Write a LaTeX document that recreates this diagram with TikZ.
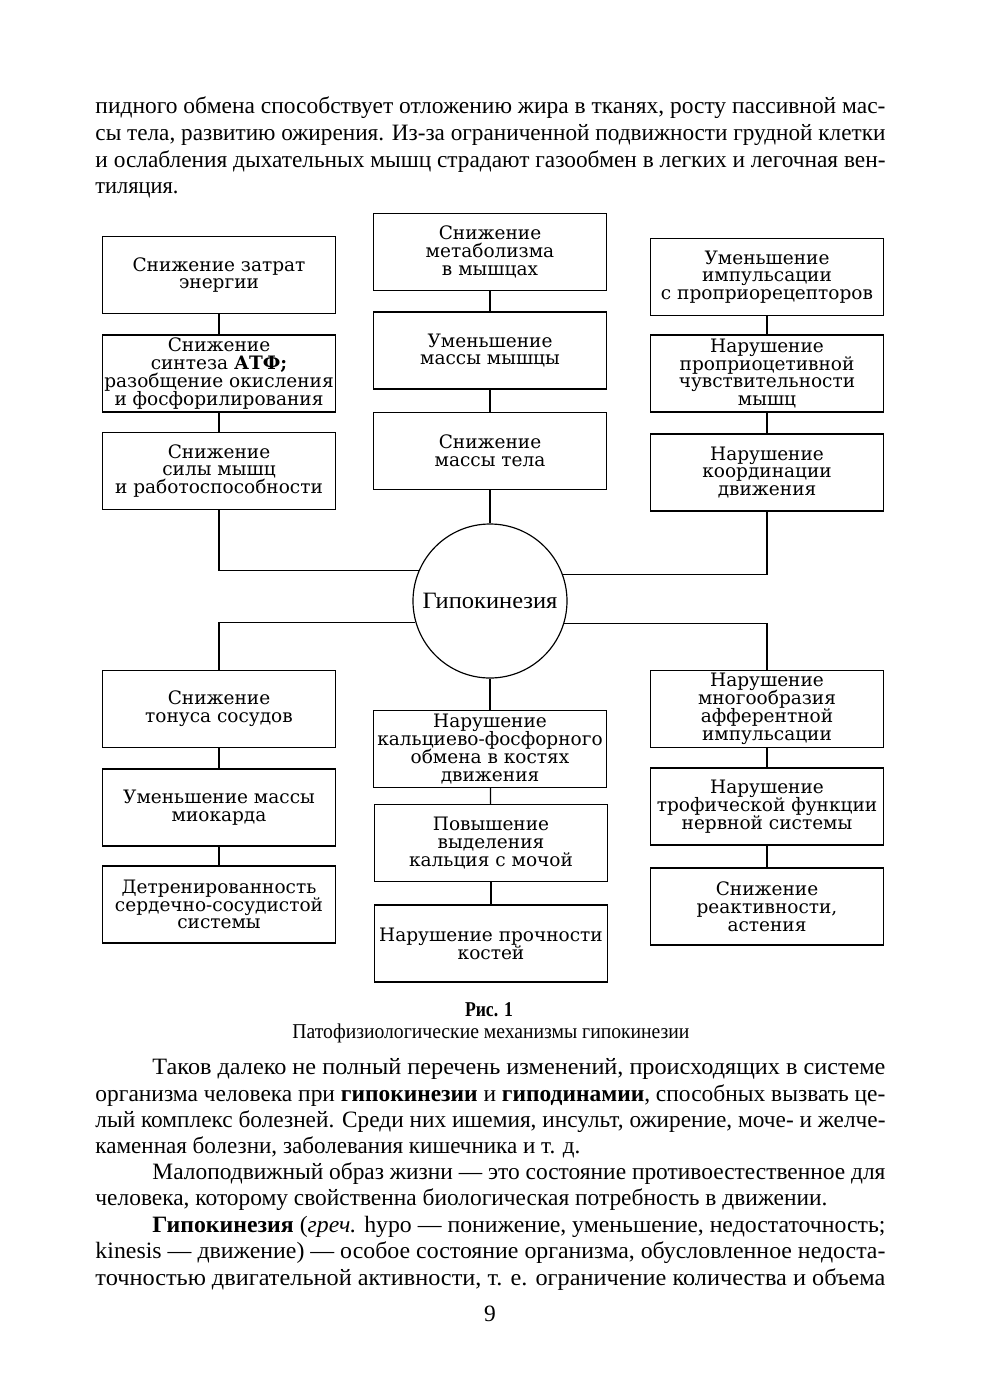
\documentclass[tikz,border=0pt]{standalone}
\usepackage{fontspec}
\usepackage{graphicx}
\setmainfont{Liberation Serif}
\newfontfamily\boxfont{DejaVu Serif}
\newlength\unitpx
\setlength\unitpx{0.15mm}
\newcommand\boxtext{\boxfont\fontsize{7.9}{7.6}\selectfont\lineskiplimit=-10pt\relax}

\begin{document}
\begin{tikzpicture}[x=0.15mm, y=-0.15mm,
        box_style/.style={draw=black, line width=0.5pt, minimum width=34.95mm, minimum height=11.55mm, inner sep=0pt, align=center, font=\boxtext},
        hub_style/.style={circle, draw=black, line width=0.5pt, minimum size=23.1mm, inner sep=0pt},
        edge_style/.style={draw=black, line width=0.5pt, -},
        line_style/.style={anchor=base west, inner sep=0pt, font=\fontsize{10}{12}\selectfont}]

        \fill[white] (0,0) rectangle (980,1386);
        \useasboundingbox (0,0) rectangle (980,1386);

        % text above the figure
        \node [line_style] (p1) at (95,113) {\resizebox{790\unitpx}{\height}{пидного обмена способствует отложению жира в тканях, росту пассивной мас-}};
        \node [line_style] (p2) at (95,140) {\resizebox{790\unitpx}{\height}{сы тела, развитию ожирения. Из-за ограниченной подвижности грудной клетки}};
        \node [line_style] (p3) at (95,167) {\resizebox{790\unitpx}{\height}{и ослабления дыхательных мышц страдают газообмен в легких и легочная вен-}};
        \node [line_style] (p4) at (95,193) {\resizebox{83\unitpx}{\height}{тиляция.}};

        % upper half
        \node [box_style] (l1) at (219,275) {Снижение затрат\\энергии};
        \node [box_style] (l2) at (219,373.5) {Снижение\\синтеза \textbf{АТФ;}\\разобщение окисления\\и фосфорилирования};
        \node [box_style] (l3) at (219,471) {Снижение\\силы мышц\\и работоспособности};
        \node [box_style] (c1) at (490,252) {Снижение\\метаболизма\\в мышцах};
        \node [box_style] (c2) at (490,350.5) {Уменьшение\\массы мышцы};
        \node [box_style] (c3) at (490,451) {Снижение\\массы тела};
        \node [box_style] (r1) at (767,277) {Уменьшение\\импульсации\\с проприорецепторов};
        \node [box_style] (r2) at (767,373.5) {Нарушение\\проприоцетивной\\чувствительности\\мышц};
        \node [box_style] (r3) at (767,472.5) {Нарушение\\координации\\движения};

        \node [hub_style] (hub) at (490,601) {\fontsize{10}{12}\selectfont\resizebox{135\unitpx}{\height}{Гипокинезия}};

        % lower half
        \node [box_style] (l4) at (219,709) {Снижение\\тонуса сосудов};
        \node [box_style] (l5) at (219,807.5) {Уменьшение массы\\миокарда};
        \node [box_style] (l6) at (219,904.5) {Детренированность\\сердечно-сосудистой\\системы};
        \node [box_style] (c4) at (490,749) {Нарушение\\кальциево-фосфорного\\обмена в костях\\движения};
        \node [box_style] (c5) at (491,843) {Повышение\\выделения\\кальция с мочой};
        \node [box_style] (c6) at (491,943.5) {Нарушение прочности\\костей};
        \node [box_style] (r4) at (767,709) {Нарушение\\многообразия\\афферентной\\импульсации};
        \node [box_style] (r5) at (767,806.5) {Нарушение\\трофической функции\\нервной системы};
        \node [box_style] (r6) at (767,906.5) {Снижение\\реактивности,\\астения};

        \draw [edge_style] (l1) -- (l2);
        \draw [edge_style] (l2) -- (l3);
        \draw [edge_style] (c1) -- (c2);
        \draw [edge_style] (c2) -- (c3);
        \draw [edge_style] (r1) -- (r2);
        \draw [edge_style] (r2) -- (r3);
        \draw [edge_style] (c3) -- (hub);
        \draw [edge_style] (l3.south) |- (hub.157);
        \draw [edge_style] (r3.south) |- (hub.20);
        \draw [edge_style] (hub.196) -| (l4.north);
        \draw [edge_style] (hub.-17) -| (r4.north);
        \draw [edge_style] (hub) -- (c4);
        \draw [edge_style] (l4) -- (l5);
        \draw [edge_style] (l5) -- (l6);
        \draw [edge_style] (c4) -- (c5);
        \draw [edge_style] (c5) -- (c6);
        \draw [edge_style] (r4) -- (r5);
        \draw [edge_style] (r5) -- (r6);

        % caption
        \node [anchor=base, inner sep=0pt, font=\fontsize{9}{11}\selectfont\bfseries] (fig_no) at (489,1016) {\resizebox{48\unitpx}{\height}{Рис. 1}};
        \node [anchor=base, inner sep=0pt, font=\fontsize{9}{11}\selectfont] (fig_title) at (491,1038) {\resizebox{397\unitpx}{\height}{Патофизиологические механизмы гипокинезии}};

        % text below the figure
        \node [line_style] (q1) at (152,1074) {\resizebox{733\unitpx}{\height}{Таков далеко не полный перечень изменений, происходящих в системе}};
        \node [line_style] (q2) at (95,1101) {\resizebox{790\unitpx}{\height}{организма человека при \textbf{гипокинезии} и \textbf{гиподинамии}, способных вызвать це-}};
        \node [line_style] (q3) at (95,1127) {\resizebox{790\unitpx}{\height}{лый комплекс болезней. Среди них ишемия, инсульт, ожирение, моче- и желче-}};
        \node [line_style] (q4) at (95,1153) {\resizebox{485\unitpx}{\height}{каменная болезни, заболевания кишечника и т. д.}};
        \node [line_style] (s1) at (152,1179) {\resizebox{733\unitpx}{\height}{Малоподвижный образ жизни — это состояние противоестественное для}};
        \node [line_style] (s2) at (95,1205) {\resizebox{732\unitpx}{\height}{человека, которому свойственна биологическая потребность в движении.}};
        \node [line_style] (t1) at (152,1232) {\resizebox{733\unitpx}{\height}{\textbf{Гипокинезия} (\textit{греч.} hypo — понижение, уменьшение, недостаточность;}};
        \node [line_style] (t2) at (95,1258) {\resizebox{790\unitpx}{\height}{kinesis — движение) — особое состояние организма, обусловленное недоста-}};
        \node [line_style] (t3) at (95,1285) {\resizebox{790\unitpx}{\height}{точностью двигательной активности, т. е. ограничение количества и объема}};
        \node [anchor=base, inner sep=0pt, font=\fontsize{10}{12}\selectfont] (page_no) at (490,1321) {9};
\end{tikzpicture}
\end{document}
